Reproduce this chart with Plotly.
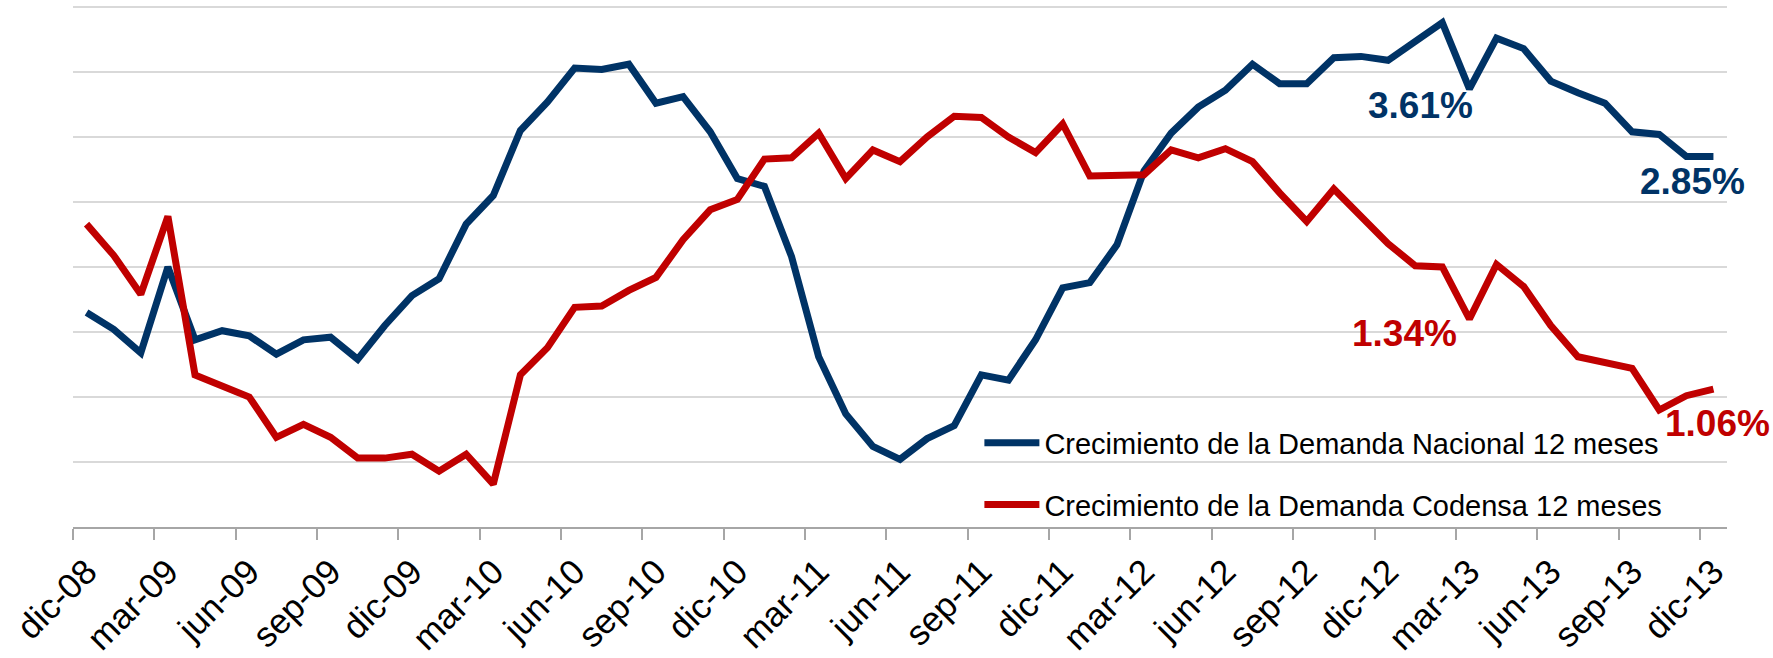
import plotly.graph_objects as go

# ---- data ----
meses_abbr = ["ene", "feb", "mar", "abr", "may", "jun", "jul", "ago", "sep", "oct", "nov", "dic"]
categorias = ["dic-08"] + [f"{m}-{y:02d}" for y in range(9, 14) for m in meses_abbr]

nacional = [1.65, 1.52, 1.34, 2.00, 1.44, 1.51, 1.47, 1.33, 1.44, 1.46, 1.29,
            1.55, 1.78, 1.91, 2.33, 2.55, 3.05, 3.27, 3.53, 3.52, 3.56,
            3.26, 3.31, 3.04, 2.68, 2.62, 2.08, 1.31, 0.87, 0.62, 0.52,
            0.68, 0.78, 1.17, 1.13, 1.44, 1.84, 1.88, 2.17, 2.74, 3.03,
            3.23, 3.36, 3.56, 3.41, 3.41, 3.61, 3.62, 3.59, 3.74, 3.88,
            3.37, 3.76, 3.68, 3.43, 3.34, 3.26, 3.04, 3.02, 2.85, 2.85]

codensa = [2.33, 2.09, 1.79, 2.39, 1.17, 1.08, 1.00, 0.69, 0.79, 0.69, 0.53,
           0.53, 0.56, 0.43, 0.56, 0.33, 1.17, 1.38, 1.69, 1.70, 1.82,
           1.92, 2.21, 2.44, 2.52, 2.83, 2.84, 3.03, 2.68, 2.90, 2.81,
           3.00, 3.16, 3.15, 3.00, 2.88, 3.10, 2.70, 2.70, 2.71, 2.90,
           2.84, 2.91, 2.81, 2.57, 2.35, 2.60, 2.39, 2.18, 2.01, 2.00,
           1.60, 2.02, 1.85, 1.55, 1.31, 1.27, 1.22, 0.90, 1.01, 1.06]

tick_labels = ["dic-08", "mar-09", "jun-09", "sep-09", "dic-09", "mar-10", "jun-10",
               "sep-10", "dic-10", "mar-11", "jun-11", "sep-11", "dic-11", "mar-12",
               "jun-12", "sep-12", "dic-12", "mar-13", "jun-13", "sep-13", "dic-13"]

nombre_nac = "Crecimiento de la Demanda Nacional 12 meses"
nombre_cod = "Crecimiento de la Demanda Codensa 12 meses"

AZUL = "#003366"
ROJO = "#C00000"
FONT = "Liberation Sans, Arial, sans-serif"

xs = list(range(len(categorias)))
tick_pos = [categorias.index(t) for t in tick_labels]
boundary_pos = [p - 0.5 for p in tick_pos]

fig = go.Figure()
fig.add_trace(go.Scatter(x=xs, y=nacional, mode="lines", name=nombre_nac,
                         line=dict(color=AZUL, width=7), legendgroup="a",
                         text=categorias, hovertemplate="%{text}: %{y:.2f}%<extra></extra>"))
fig.add_trace(go.Scatter(x=xs, y=codensa, mode="lines", name=nombre_cod,
                         line=dict(color=ROJO, width=7), legendgroup="b",
                         text=categorias, hovertemplate="%{text}: %{y:.2f}%<extra></extra>"))

annots = [
    dict(x=49.19, y=3.246, text="3.61%", color=AZUL),
    dict(x=48.62, y=1.492, text="1.34%", color=ROJO),
    dict(x=59.21, y=2.658, text="2.85%", color=AZUL),
    dict(x=60.15, y=0.796, text="1.06%", color=ROJO),
]
for a in annots:
    fig.add_annotation(x=a["x"], y=a["y"], xref="x", yref="y", text=f"<b>{a['text']}</b>",
                       showarrow=False, font=dict(family=FONT, size=37, color=a["color"]),
                       xanchor="center", yanchor="middle")

fig.update_layout(
    width=1773, height=658, autosize=False,
    margin=dict(l=73, r=46, t=5, b=131, pad=0, autoexpand=False),
    paper_bgcolor="white", plot_bgcolor="white",
    font=dict(family=FONT, color="black"),
    showlegend=True,
    legend=dict(x=0.548, y=0.21, xanchor="left", yanchor="top",
                bgcolor="rgba(0,0,0,0)", font=dict(family=FONT, size=29, color="black"),
                itemwidth=55, tracegroupgap=21, traceorder="grouped"),
    xaxis=dict(range=[-0.5, len(categorias) - 0.5], tickmode="array",
               tickvals=tick_pos, ticktext=tick_labels, tickangle=-45,
               ticks="", showgrid=False, zeroline=False, automargin=False,
               showline=True, linecolor="#A6A6A6", linewidth=2,
               tickfont=dict(family=FONT, size=35, color="black"),
               ticklabelstandoff=8,
               minor=dict(tickmode="array", tickvals=boundary_pos, ticks="outside",
                          ticklen=11, tickwidth=2, tickcolor="#A6A6A6", showgrid=False)),
    yaxis=dict(range=[0, 4 + 2 / 130], dtick=0.5, tick0=0, showticklabels=False, ticks="",
               showgrid=True, gridcolor="#D9D9D9", gridwidth=2, automargin=False,
               zeroline=False, showline=False),
)

fig.write_html("out.html", config={"displayModeBar": False},
               post_script="document.body.style.margin='0';")
